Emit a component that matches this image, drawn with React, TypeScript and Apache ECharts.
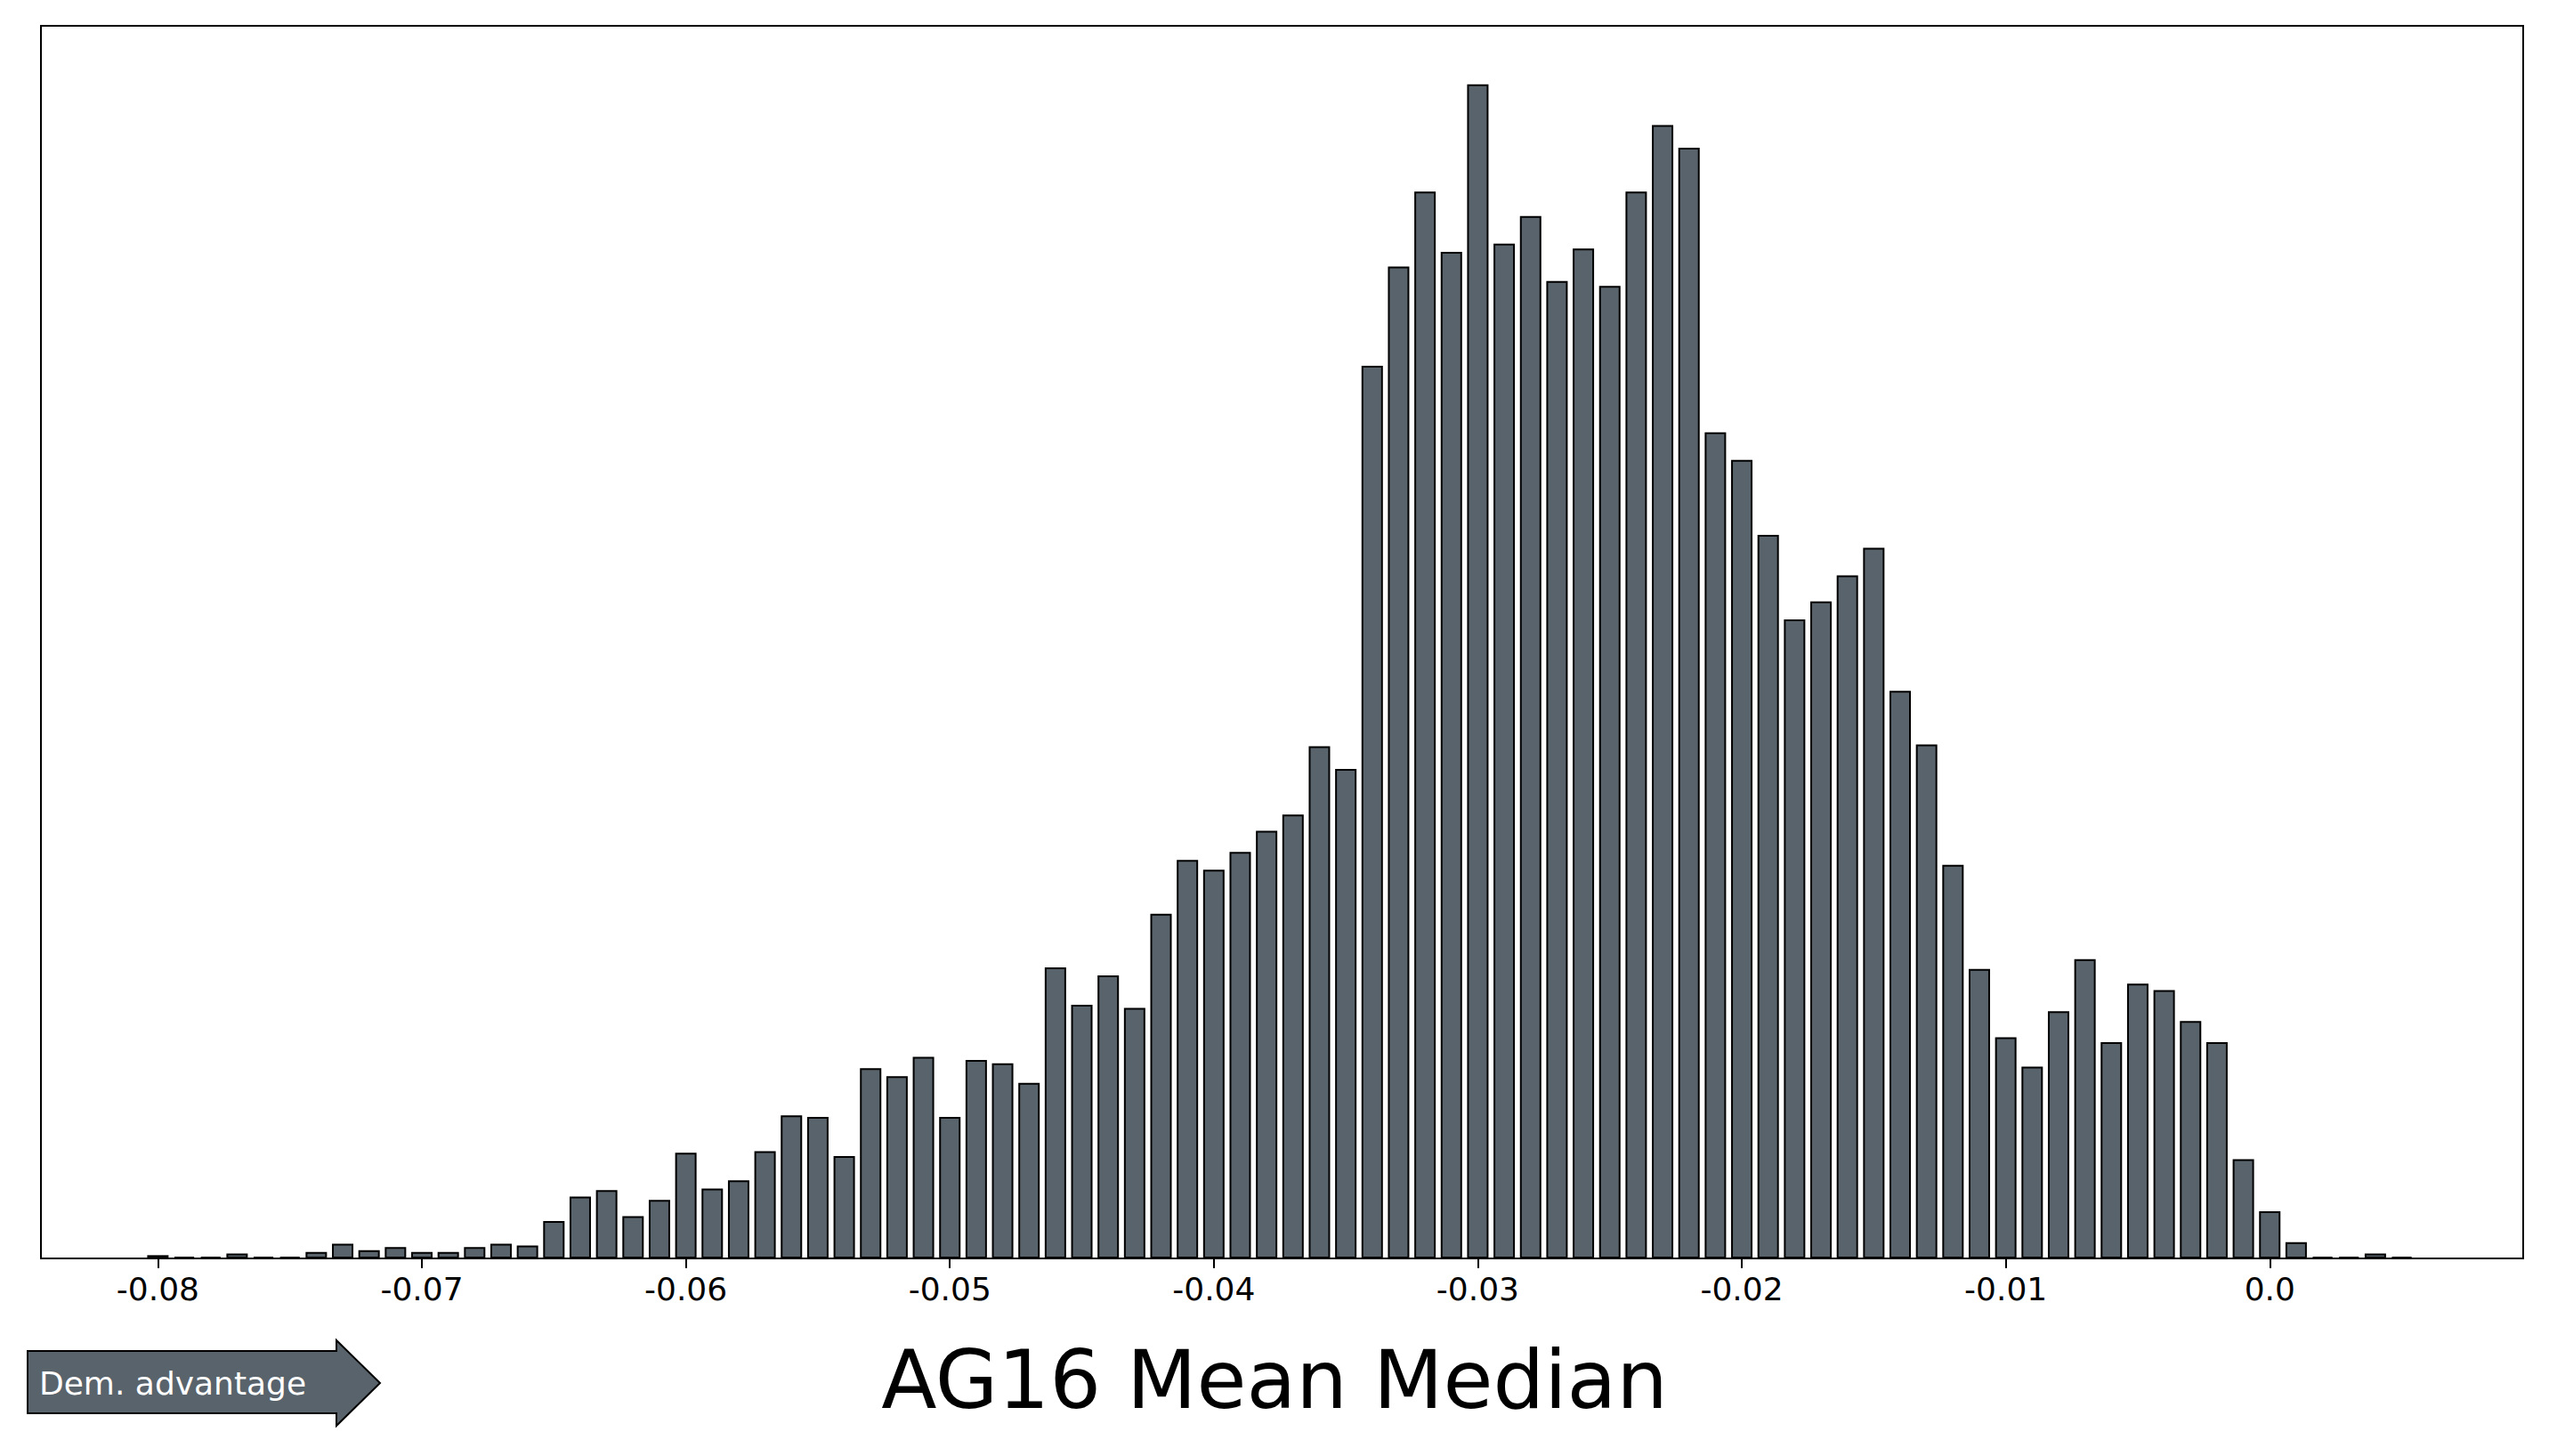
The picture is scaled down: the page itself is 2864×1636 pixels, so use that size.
import { useEffect, useRef } from 'react'
import * as echarts from 'echarts'

// bin centres (width 0.001) and counts
const binStart = -0.08
const counts = [
  2, 1, 1, 3, 1, 1, 4, 9, 5, 7, 4, 4, 7, 9, 8, 23, 38, 42, 26, 36,
  65, 43, 48, 66, 88, 87, 63, 117, 112, 124, 87, 122, 120, 108, 179, 156, 174, 154, 212, 245,
  239, 250, 263, 273, 315, 301, 549, 610, 656, 619, 722, 624, 641, 601, 621, 598, 656, 697, 683, 508,
  491, 445, 393, 404, 420, 437, 349, 316, 242, 178, 136, 118, 152, 184, 133, 169, 165, 146, 133, 61,
  29, 10, 1, 1, 3, 1,
]
const tickValues = [-0.08, -0.07, -0.06, -0.05, -0.04, -0.03, -0.02, -0.01, 0]

export default function App() {
  const ref = useRef<HTMLDivElement | null>(null)

  useEffect(() => {
    if (!ref.current) return
    const chart = echarts.init(ref.current, null, { renderer: 'svg' })
    const data = counts.map((c, i) => [Number((binStart + i * 0.001).toFixed(3)), c])
    chart.setOption({
      animation: false,
      grid: {
        left: 46, right: 29, top: 29, bottom: 222,
        show: true, borderColor: '#000', borderWidth: 2, backgroundColor: '#fff',
      },
      xAxis: {
        type: 'value',
        min: -0.08443,
        max: 0.0096,
        splitLine: { show: false },
        axisLine: { show: false },
        axisTick: { show: true, inside: false, length: 11, lineStyle: { color: '#000', width: 2 }, customValues: tickValues },
        axisLabel: {
          customValues: tickValues,
          color: '#000', fontSize: 36, margin: 16, fontFamily: 'DejaVu Sans',
          formatter: (v: number) => (Math.abs(v) < 1e-9 ? '0.0' : v.toFixed(2)),
        },
      },
      yAxis: {
        type: 'value', min: 0, max: 758,
        show: false, splitLine: { show: false },
      },
      series: [
        {
          type: 'bar',
          data,
          barWidth: 24,
          itemStyle: { color: '#59636b', borderColor: '#000', borderWidth: 2 },
        },
      ],
      graphic: [
        {
          type: 'text', left: 'center', top: 1505,
          style: { text: 'AG16 Mean Median', fontSize: 91, fill: '#000', fontFamily: 'DejaVu Sans' },
        },
        {
          type: 'polygon',
          shape: { points: [[31, 1518], [378, 1518], [378, 1506], [427, 1554], [378, 1602], [378, 1588], [31, 1588]] },
          style: { fill: '#59636b', stroke: '#000', lineWidth: 2 },
        },
        {
          type: 'text', x: 44, y: 1554,
          style: { text: 'Dem. advantage', fontSize: 36, fill: '#fff', fontFamily: 'DejaVu Sans', verticalAlign: 'middle' },
        },
      ],
    })
    return () => chart.dispose()
  }, [])

  return <div ref={ref} style={{ position: 'fixed', left: 0, top: 0, width: '100vw', height: '100vh', background: '#fff' }} />
}
